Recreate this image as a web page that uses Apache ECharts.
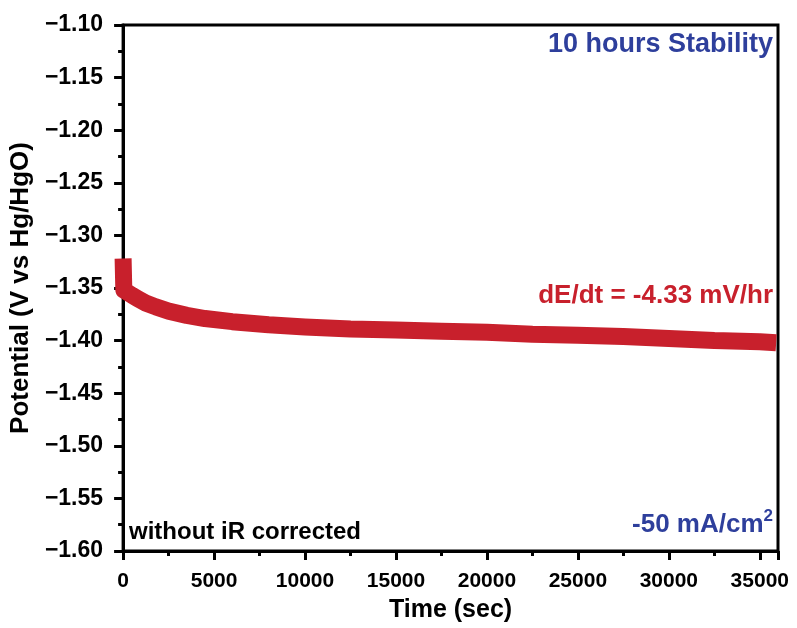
<!DOCTYPE html>
<html>
<head>
<meta charset="utf-8">
<script src="https://cdn.jsdelivr.net/npm/echarts@6/dist/echarts.min.js"></script>
<style>
html,body{margin:0;padding:0;background:#fff;}
#chart{width:797px;height:628px;}
</style>
</head>
<body>
<div id="chart"></div>
<script>
// time (sec) and potential (V vs Hg/HgO)
var timeSec = [0, 40, 500, 800, 1200, 1800, 2500, 3500, 4500, 6000, 8000, 10000,
    12500, 15000, 17500, 20000, 22500, 25000, 27500, 30000, 32500, 35000, 35900];
var potential = [-1.322, -1.352, -1.357, -1.360, -1.364, -1.368, -1.372, -1.376, -1.379, -1.382, -1.385, -1.387,
    -1.389, -1.390, -1.391, -1.392, -1.394, -1.395, -1.396, -1.398, -1.400, -1.401, -1.402];
var yTicks = [-1.60, -1.55, -1.50, -1.45, -1.40, -1.35, -1.30, -1.25, -1.20, -1.15, -1.10];
var xTicks = [0, 5000, 10000, 15000, 20000, 25000, 30000, 35000];

var seriesData = [];
for (var i = 0; i < timeSec.length; i++) {
    seriesData.push([timeSec[i], potential[i]]);
}

var font = 'Liberation Sans, Arial, sans-serif';
var red = '#c8202c';
var blue = '#2e3f9c';

var chart = echarts.init(document.getElementById('chart'));
option = {
    backgroundColor: '#fff',
    animation: false,
    grid: {
        left: 123, right: 19, top: 25, bottom: 75,
        show: true, borderColor: '#000', borderWidth: 3
    },
    xAxis: {
        type: 'value',
        min: 0, max: 36000, interval: 5000,
        name: 'Time (sec)',
        nameLocation: 'middle',
        nameGap: 47,
        nameTextStyle: {fontFamily: font, fontWeight: 'bold', fontSize: 25, color: '#000'},
        axisLine: {show: true, onZero: false, lineStyle: {color: '#000', width: 3}},
        axisTick: {show: true, inside: false, length: 9, lineStyle: {color: '#000', width: 3}},
        minorTick: {show: true, splitNumber: 2, length: 5, lineStyle: {color: '#000', width: 3}},
        splitLine: {show: false},
        axisLabel: {
            margin: 20,
            fontFamily: font, fontWeight: 'bold', fontSize: 21, color: '#000',
            formatter: function (v) { return xTicks.indexOf(v) >= 0 ? String(v) : ''; }
        }
    },
    yAxis: {
        type: 'value',
        min: -1.6, max: -1.1, interval: 0.05,
        name: 'Potential (V vs Hg/HgO)',
        nameLocation: 'middle',
        nameGap: 89,
        nameRotate: 90,
        nameTextStyle: {fontFamily: font, fontWeight: 'bold', fontSize: 26, color: '#000'},
        axisLine: {show: true, onZero: false, lineStyle: {color: '#000', width: 3}},
        axisTick: {show: true, inside: false, length: 9, lineStyle: {color: '#000', width: 3}},
        minorTick: {show: true, splitNumber: 2, length: 5, lineStyle: {color: '#000', width: 3}},
        splitLine: {show: false},
        axisLabel: {
            margin: 20,
            fontFamily: font, fontWeight: 'bold', fontSize: 23, color: '#000',
            formatter: function (v) {
                var best = yTicks[0];
                for (var k = 0; k < yTicks.length; k++) {
                    if (Math.abs(yTicks[k] - v) < Math.abs(best - v)) best = yTicks[k];
                }
                return best.toFixed(2).replace('-', '\u2212');
            }
        }
    },
    series: [
        {
            type: 'line',
            data: seriesData,
            showSymbol: false,
            smooth: false,
            clip: true,
            lineStyle: {color: red, width: 17, cap: 'butt', join: 'round'}
        }
    ],
    graphic: [
        {
            type: 'text', right: 24, top: 31,
            style: {text: '10 hours Stability', fill: blue, font: 'bold 27px ' + font}
        },
        {
            type: 'text', right: 24, top: 283,
            style: {text: 'dE/dt = -4.33 mV/hr', fill: red, font: 'bold 26px ' + font}
        },
        {
            type: 'text', right: 24, top: 508,
            style: {
                text: '{a|-50 mA/cm}{s|2}',
                rich: {
                    a: {fill: blue, font: 'bold 26px ' + font, lineHeight: 30, verticalAlign: 'bottom'},
                    s: {fill: blue, font: 'bold 17px ' + font, lineHeight: 30, verticalAlign: 'top'}
                }
            }
        },
        {
            type: 'text', left: 129, top: 520,
            style: {text: 'without iR corrected', fill: '#000', font: 'bold 24px ' + font}
        }
    ]
};
chart.setOption(option);
</script>
</body>
</html>
